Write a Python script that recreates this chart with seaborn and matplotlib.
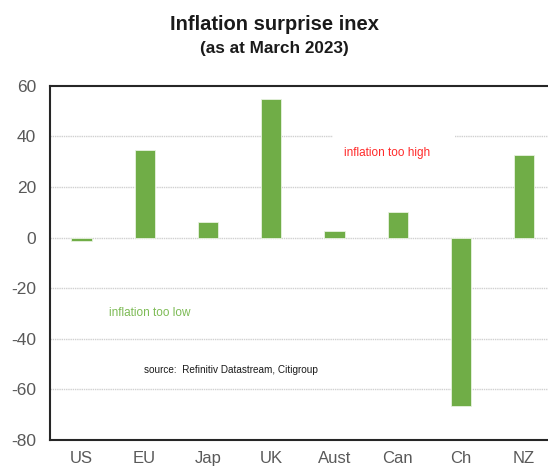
import matplotlib
matplotlib.use("Agg")
import matplotlib.pyplot as plt
from matplotlib.patches import Rectangle
import seaborn as sns
import pandas as pd

countries = ["US", "EU", "Jap", "UK", "Aust", "Can", "Ch", "NZ"]
surprise = [-1.5, 34.5, 6.1, 54.8, 2.4, 10.2, -66.5, 32.8]
y_ticks = [60, 40, 20, 0, -20, -40, -60, -80]

title = "Inflation surprise inex"
subtitle = "(as at March 2023)"
note_high = "inflation too high"
note_low = "inflation too low"
source = "source:  Refinitiv Datastream, Citigroup"

sns.set_style("white")
plt.rcParams["font.family"] = ["Liberation Sans", "DejaVu Sans"]
plt.rcParams["axes.unicode_minus"] = False

df = pd.DataFrame({"country": countries, "value": surprise})

fig = plt.figure(figsize=(5.48, 4.70), dpi=100)
ax = fig.add_axes([49.8 / 548, 1 - 440 / 470, 506 / 548, 354.3 / 470])

sns.barplot(data=df, x="country", y="value", color="#70AD47", saturation=1,
            width=0.32, edgecolor="#e8f2e0", linewidth=0.6, ax=ax, zorder=3)

ax.set_xlim(-0.5, 7.5)
ax.set_ylim(-80, 60)
ax.set_yticks(y_ticks)
ax.set_xlabel("")
ax.set_ylabel("")

for v in y_ticks[1:-1]:
    ax.axhline(v, color="#d0d0d0", lw=1.0, ls=(0, (1, 0.6)), zorder=1)

# white panel behind the upper annotation
ax.add_patch(Rectangle((3.98, 28), 1.93, 14, facecolor="white", edgecolor="none", zorder=2))

ax.tick_params(axis="y", length=0, labelsize=12.5, labelcolor="#595959", pad=10)
ax.tick_params(axis="x", length=0, labelsize=12, labelcolor="#595959", pad=8)

for side in ["left", "top", "bottom"]:
    ax.spines[side].set_visible(True)
    ax.spines[side].set_color("#262626")
    ax.spines[side].set_linewidth(1.5)
ax.spines["right"].set_visible(False)

ax.text(4.155, 33.4, note_high, color="#ff2a2a", fontsize=8.5, va="center", ha="left", zorder=4)
ax.text(0.442, -29.8, note_low, color="#7dbb55", fontsize=8.5, va="center", ha="left", zorder=4)
ax.text(0.995, -52.4, source, color="#1a1a1a", fontsize=7.2, va="center", ha="left", zorder=4)

fig.text(0.5, 1 - 25 / 470, title, ha="center", va="center", fontsize=14.5, fontweight="bold", color="#1a1a1a")
fig.text(0.5, 1 - 48 / 470, subtitle, ha="center", va="center", fontsize=12.3, fontweight="bold", color="#1a1a1a")

fig.savefig("out.png", dpi=100, facecolor="white")
